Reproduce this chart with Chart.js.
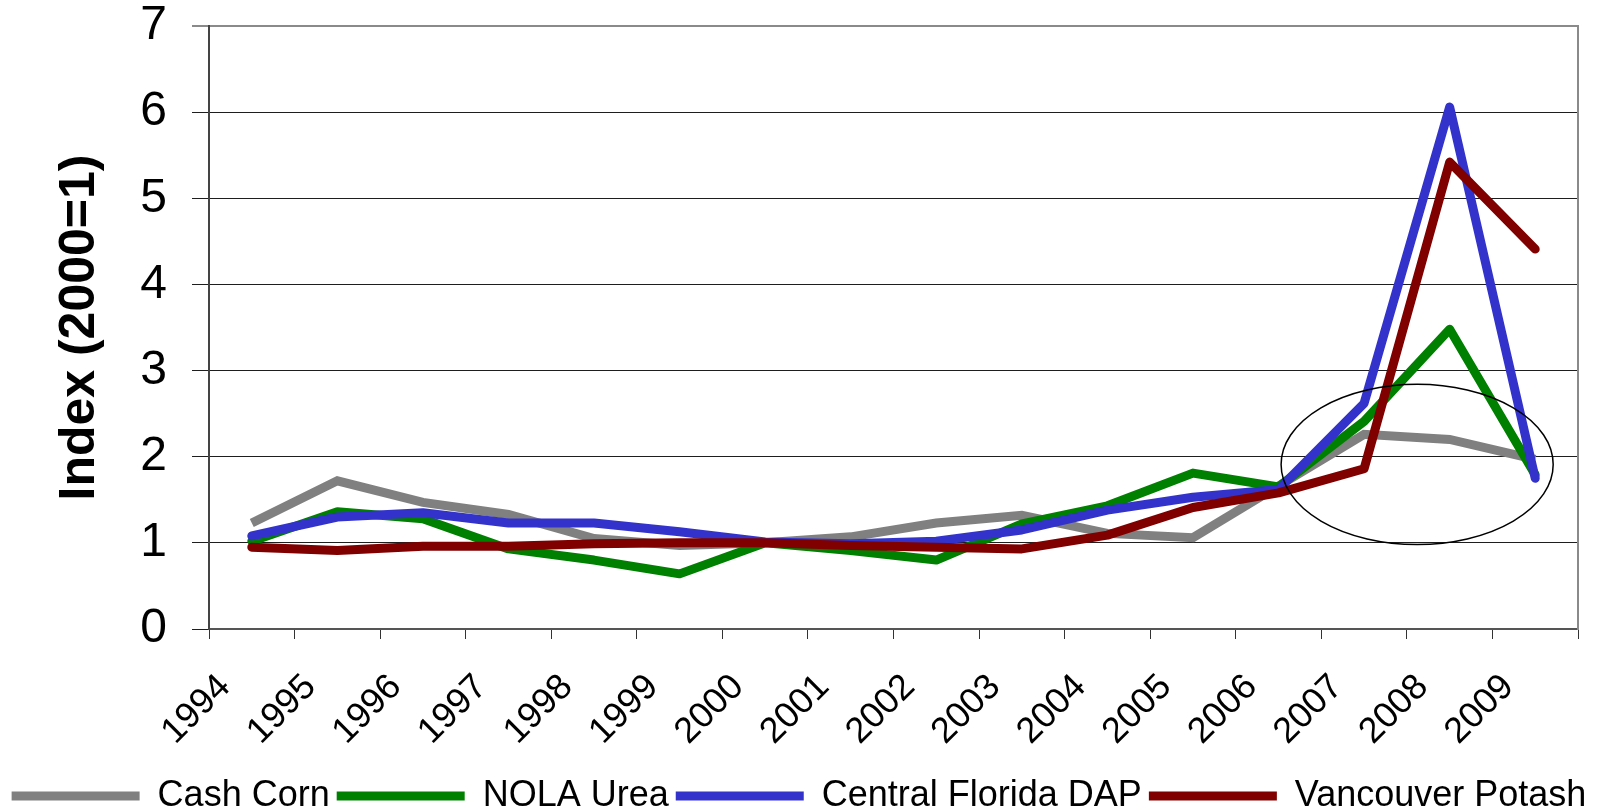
<!DOCTYPE html>
<html>
<head>
<meta charset="utf-8">
<script src="https://cdn.jsdelivr.net/npm/chart.js@4.4.0/dist/chart.umd.min.js"></script>
<style>
html,body{margin:0;padding:0;background:#ffffff;}
#wrap{width:1598px;height:811px;position:relative;}
</style>
</head>
<body>
<div id="wrap"><canvas id="c" width="1598" height="811"></canvas></div>
<script>
// ---- data ----
const years = ['1994','1995','1996','1997','1998','1999','2000','2001','2002','2003','2004','2005','2006','2007','2008','2009'];
const cashCorn          = [1.23, 1.72, 1.47, 1.33, 1.05, 0.97, 1.00, 1.07, 1.23, 1.32, 1.11, 1.06, 1.66, 2.26, 2.20, 1.97];
const nolaUrea          = [1.02, 1.36, 1.28, 0.93, 0.80, 0.64, 1.00, 0.91, 0.80, 1.22, 1.43, 1.81, 1.65, 2.41, 3.48, 1.79];
const centralFloridaDAP = [1.08, 1.30, 1.35, 1.23, 1.23, 1.13, 1.01, 0.99, 1.02, 1.15, 1.38, 1.53, 1.62, 2.62, 6.06, 1.75];
const vancouverPotash   = [0.95, 0.91, 0.96, 0.96, 0.99, 1.00, 1.00, 0.97, 0.95, 0.93, 1.09, 1.41, 1.58, 1.86, 5.42, 4.41];
const seriesNames = ['Cash Corn', 'NOLA Urea', 'Central Florida DAP', 'Vancouver Potash'];
const yTicks = [0, 1, 2, 3, 4, 5, 6, 7];
const yTitle = 'Index (2000=1)';
// highlight ellipse (category-index units on x, index units on y)
const ellipseCenterCat = 13.62, ellipseCenterVal = 1.91;
const ellipseHalfCats = 1.59, ellipseHalfVal = 0.93;

const FONT = "'Liberation Sans', Arial, Helvetica, sans-serif";
Chart.defaults.font.family = FONT;
Chart.defaults.color = '#000';

const ellipsePlugin = {
  id: 'ellipseNote',
  afterDatasetsDraw(chart) {
    const x = chart.scales.x, y = chart.scales.y, ctx = chart.ctx;
    const cx = x.getPixelForValue(ellipseCenterCat);
    const rx = x.getPixelForValue(ellipseCenterCat + ellipseHalfCats) - cx;
    const cy = y.getPixelForValue(ellipseCenterVal);
    const ry = cy - y.getPixelForValue(ellipseCenterVal + ellipseHalfVal);
    ctx.save();
    ctx.beginPath();
    ctx.ellipse(cx, cy, rx, ry, 0, 0, Math.PI * 2);
    ctx.strokeStyle = '#000';
    ctx.lineWidth = 1.5;
    ctx.stroke();
    ctx.restore();
  }
};

function ds(label, data, color, order, cap, join) {
  return {
    label, data, borderColor: color, backgroundColor: color,
    borderWidth: 9, pointRadius: 0, pointHoverRadius: 0, tension: 0,
    borderCapStyle: cap, borderJoinStyle: join, order, fill: false
  };
}

new Chart(document.getElementById('c'), {
  type: 'line',
  data: {
    labels: years,
    datasets: [
      ds(seriesNames[0], cashCorn, '#808080', 3, 'butt', 'miter'),
      ds(seriesNames[1], nolaUrea, '#008000', 2, 'round', 'round'),
      ds(seriesNames[2], centralFloridaDAP, '#3333CC', 1, 'round', 'round'),
      ds(seriesNames[3], vancouverPotash, '#800000', 0, 'round', 'round')
    ]
  },
  options: {
    responsive: false,
    devicePixelRatio: 1,
    animation: false,
    layout: { padding: { top: 26, left: 0, right: 0, bottom: -13 } },
    plugins: {
      tooltip: { enabled: false },
      legend: {
        position: 'bottom',
        labels: {
          font: { size: 36, family: FONT },
          color: '#000',
          usePointStyle: true,
          pointStyle: 'line',
          pointStyleWidth: 128,
          padding: 7,
          sort: (a, b) => a.datasetIndex - b.datasetIndex
        }
      }
    },
    scales: {
      x: {
        type: 'category',
        offset: true,
        grid: { display: true, offset: true, drawOnChartArea: false, drawTicks: true, tickLength: 10, color: '#333', lineWidth: 1 },
        border: { display: true, color: '#555', width: 2 },
        ticks: { autoSkip: false, minRotation: 45, maxRotation: 45, padding: 27, labelOffset: -27,
                 font: { size: 36, family: FONT }, color: '#000' },
        afterFit: s => { s.height = 142; }
      },
      y: {
        type: 'linear',
        position: 'left',
        min: yTicks[0], max: yTicks[yTicks.length - 1],
        afterBuildTicks: s => { s.ticks = yTicks.map(v => ({ value: v })); },
        grid: {
          display: true, drawTicks: true, tickLength: 17,
          color: c => (c.tick && c.tick.value === 7) ? '#8a8a8a' : '#1e1e1e',
          lineWidth: c => (c.tick && c.tick.value === 7) ? 2 : 1
        },
        border: { display: true, color: '#444', width: 2 },
        ticks: { padding: 25, font: { size: 48, family: FONT, lineHeight: 1 }, color: '#000' },
        title: { display: true, text: yTitle, color: '#000',
                 font: { size: 50, weight: 'bold', family: FONT, lineHeight: 1 },
                 padding: { top: 55, bottom: 0 } },
        afterFit: s => { s.width = 209; s.paddingTop = 20; s.paddingBottom = 20; }
      },
      yR: {
        type: 'linear',
        position: 'right',
        display: true,
        min: 0, max: 7,
        grid: { display: true, drawOnChartArea: false, drawTicks: false },
        border: { display: true, color: '#8a8a8a', width: 2 },
        ticks: { display: false },
        afterFit: s => { s.width = 20; s.paddingTop = 0; s.paddingBottom = 0; }
      }
    }
  },
  plugins: [ellipsePlugin]
});
</script>
</body>
</html>
